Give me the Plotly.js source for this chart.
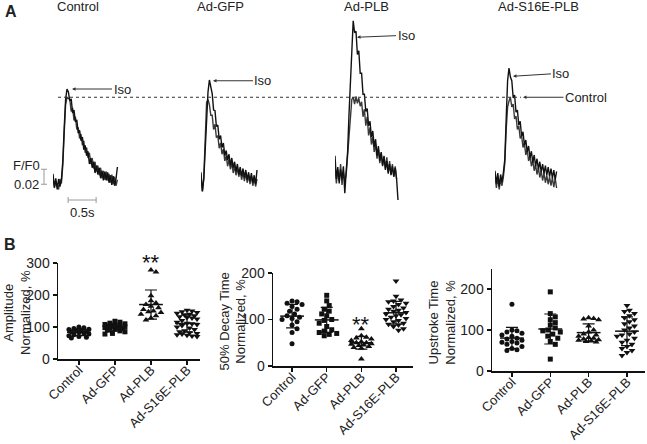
<!DOCTYPE html>
<html><head><meta charset="utf-8">
<script src="https://cdn.plot.ly/plotly-3.0.1.min.js"></script>
<style>html,body{margin:0;padding:0;background:#fff}#chart{width:647px;height:444px}</style>
</head><body><div id="chart"></div>
<script>
// ---------- DATA ----------
// Panel A: Ca transients, F/F0 sampled every 25 ms
const sampleDt = 0.025;
const groupNames = ['Control', 'Ad-GFP', 'Ad-PLB', 'Ad-S16E-PLB'];
const g1Ctrl = [1.006,0.992,1.001,0.997,0.990,1.004,0.998,1.022,1.065,1.103,1.113,1.111,1.110,1.094,1.099,1.082,1.087,1.070,1.073,1.058,1.064,1.049,1.055,1.039,1.046,1.032,1.039,1.024,1.032,1.018,1.027,1.014,1.022,1.009,1.019,1.005,1.015,1.003,1.014,1.002,1.011,0.999,1.010,0.997,1.007,0.995,1.003];
const g1Iso = [1.011,0.993,1.005,0.990,1.004,0.994,1.003,1.028,1.072,1.110,1.124,1.120,1.108,1.111,1.092,1.096,1.080,1.083,1.065,1.069,1.055,1.060,1.043,1.049,1.035,1.041,1.024,1.032,1.019,1.027,1.012,1.022,1.010,1.019,1.005,1.015,1.002,1.014,1.002,1.013,0.999,1.009,0.996,1.008,0.995,1.004,1.020];
const g2Ctrl = [1.005,0.987,1.006,1.050,1.106,1.110,1.103,1.089,1.089,1.070,1.077,1.059,1.062,1.045,1.052,1.037,1.044,1.028,1.035,1.021,1.030,1.017,1.026,1.012,1.021,1.009,1.019,1.007,1.016,1.003,1.013,1.001,1.012,0.999,1.009,0.997,1.008,0.995,1.005,0.994,1.004];
const g2Iso = [1.013,0.988,1.004,1.040,1.085,1.120,1.136,1.126,1.118,1.096,1.095,1.074,1.076,1.057,1.062,1.046,1.052,1.035,1.042,1.029,1.037,1.022,1.032,1.019,1.027,1.014,1.024,1.010,1.020,1.008,1.018,1.006,1.016,1.003,1.013,1.001,1.012,0.999,1.009,0.997,1.016];
const g3Ctrl = [1.020,0.998,1.016,1.002,1.024,0.996,1.014,1.001,1.010,1.035,1.070,1.095,1.110,1.113,1.104,1.114,1.105,1.112,1.101,1.107,1.087,1.097,1.075,1.087,1.062,1.073,1.050,1.060,1.040,1.051,1.031,1.044,1.025,1.039,1.021,1.035,1.018,1.033,1.014,1.028,1.010,1.024,1.007,1.021,1.004];
const g3Iso = [1.035,1.004,1.020,0.998,1.017,1.003,1.021,0.985,1.015,1.040,1.090,1.140,1.185,1.215,1.199,1.201,1.170,1.175,1.145,1.145,1.117,1.117,1.094,1.098,1.075,1.081,1.060,1.068,1.047,1.057,1.035,1.048,1.028,1.040,1.022,1.034,1.016,1.028,1.011,1.024,1.009,1.021,1.007,1.019,1.004,0.976];
const g4Ctrl = [1.008,0.992,1.006,0.990,1.004,0.995,1.007,1.025,1.070,1.100,1.108,1.113,1.100,1.104,1.084,1.088,1.070,1.075,1.058,1.062,1.046,1.052,1.036,1.043,1.028,1.035,1.021,1.029,1.015,1.023,1.010,1.019,1.006,1.015,1.002,1.012,0.999,1.009,0.997,1.007,0.995,1.006,0.993,1.005,0.992];
const g4Iso = [1.015,0.998,1.012,0.994,1.010,1.000,1.013,1.030,1.085,1.135,1.152,1.140,1.135,1.112,1.116,1.093,1.096,1.076,1.081,1.061,1.067,1.049,1.056,1.040,1.048,1.032,1.041,1.026,1.036,1.021,1.031,1.017,1.027,1.013,1.024,1.011,1.022,1.009,1.020,1.007,1.018,1.005,1.016,1.003,1.014];

// Panel B: normalized values, %
const catNames = ['Control', 'Ad-GFP', 'Ad-PLB', 'Ad-S16E-PLB'];
const ampControl = [100,98,95,93,92,90,88,86,85,83,80,78,76,73,70,68,66];
const ampGFP = [118,115,112,110,108,106,104,103,102,100,99,98,96,95,93,90,88,85,80,78];
const ampPLB = [278,272,198,182,175,170,165,160,155,150,148,145,140,135,128,122];
const ampS16E = [152,150,148,145,143,140,138,135,132,130,128,125,120,115,112,110,108,105,100,97,92,88,85,82,80,78,76,74,72,70];
const decControl = [140,138,135,132,128,122,118,112,108,105,102,100,95,88,80,72,48];
const decGFP = [152,140,130,122,118,112,108,100,98,92,85,78,75,72,70,68,65];
const decPLB = [80,65,62,60,58,55,52,50,50,48,47,45,44,42,40,38,15];
const decS16E = [183,150,142,140,138,135,132,128,125,122,120,118,115,112,110,108,105,102,100,98,95,92,90,88,85,80,77];
const upControl = [163,100,98,95,92,88,85,80,78,75,72,70,68,65,60,55,52,50];
const upGFP = [193,140,132,125,118,112,105,100,98,95,90,85,80,72,65,29];
const upPLB = [130,128,127,125,110,100,95,90,88,85,82,80,78,76,75,73,72,71];
const upS16E = [160,148,145,140,135,130,125,120,115,110,105,100,95,90,88,85,80,75,70,65,60,55,50,45,38];

// ---------- LAYOUT HELPERS ----------
const W = 647, H = 444;
const FONT = 'Arial, "Liberation Sans", sans-serif';
const px = x => x / W, py = y => 1 - y / H;
const symbols = ['circle', 'square', 'triangle-up', 'triangle-down'];
const traces = [];
const annotations = [];
const shapes = [];
const label = (x, y, text, size, extra) => annotations.push(Object.assign({xref: 'paper', yref: 'paper', x: px(x), y: py(y),
  text: text, showarrow: false, xanchor: 'center', yanchor: 'middle', font: {size: size, color: '#222'}}, extra || {}));

// Panel A axes: one shared F/F0 axis, one time axis per group
const aYTop = 0, aYBot = 230, aBasePx = 182, aPxPerUnit = 750;
const aRange = [1 - (aYBot - aBasePx) / aPxPerUnit, 1 + (aBasePx - aYTop) / aPxPerUnit];
const groupStartPx = [53, 201, 335, 495];
const pxPerSec = 56, span = 1.2;
const groupData = [[g1Ctrl, g1Iso], [g2Ctrl, g2Iso], [g3Ctrl, g3Iso], [g4Ctrl, g4Iso]];
const layout = {
  width: W, height: H, margin: {l: 0, r: 0, t: 0, b: 0},
  paper_bgcolor: '#fff', plot_bgcolor: 'rgba(0,0,0,0)', showlegend: false,
  font: {family: FONT, color: '#222'},
  yaxis4: {domain: [py(aYBot), py(aYTop)], range: aRange, visible: false, anchor: 'x4'}
};
groupData.forEach((pair, g) => {
  const ax = 'xaxis' + (4 + g);
  layout[ax] = {domain: [px(groupStartPx[g]), px(groupStartPx[g] + pxPerSec * span)], range: [0, span], visible: false, anchor: 'y4'};
  const colors = ['#3a3a3a', '#111'];
  pair.forEach((arr, k) => {
    traces.push({type: 'scatter', mode: 'lines', xaxis: 'x' + (4 + g), yaxis: 'y4',
      x: arr.map((_, i) => +(i * sampleDt).toFixed(3)), y: arr,
      line: {color: colors[k], width: 1.4}, hoverinfo: 'skip'});
  });
  label(groupStartPx[g] + [25, 19, 31, 43][g], 7, groupNames[g], 13);
});
// dashed reference line at the control peak
const ctrlPeak = Math.max(...g1Ctrl);
shapes.push({type: 'line', xref: 'paper', yref: 'y4', x0: px(58), x1: px(521), y0: ctrlPeak, y1: ctrlPeak,
  line: {color: '#333', width: 1, dash: '3px,3px'}});
// arrows
const arrowSpecs = [
  {ax: 'x4', t: 0.34, f: 1.124, dx: 50, dy: 0, text: 'Iso'},
  {ax: 'x5', t: 0.214, f: 1.135, dx: 50, dy: 0, text: 'Iso'},
  {ax: 'x6', t: 0.393, f: 1.193, dx: 49, dy: -2, text: 'Iso'},
  {ax: 'x7', t: 0.321, f: 1.141, dx: 48, dy: -3, text: 'Iso'},
  {ax: 'x7', t: 0.50, f: ctrlPeak, dx: 63, dy: 0, text: 'Control'}
];
arrowSpecs.forEach(a => annotations.push({xref: a.ax, yref: 'y4', x: a.t, y: a.f, ax: a.dx, ay: a.dy,
  text: a.text, showarrow: true, arrowhead: 2, arrowsize: 0.7, arrowwidth: 1, arrowcolor: '#333',
  xanchor: 'center', yanchor: 'middle', font: {size: 13, color: '#222'}}));
// scale bars
const grey = '#9a9a9a';
shapes.push({type: 'line', xref: 'paper', yref: 'y4', x0: px(44), x1: px(44), y0: 0.997, y1: 1.017, line: {color: grey, width: 1}});
shapes.push({type: 'line', xref: 'paper', yref: 'y4', x0: px(41), x1: px(47), y0: 0.997, y1: 0.997, line: {color: grey, width: 1}});
shapes.push({type: 'line', xref: 'paper', yref: 'y4', x0: px(41), x1: px(47), y0: 1.017, y1: 1.017, line: {color: grey, width: 1}});
shapes.push({type: 'line', xref: 'x4', yref: 'y4', x0: 0.27, x1: 0.77, y0: 0.976, y1: 0.976, line: {color: grey, width: 1}});
shapes.push({type: 'line', xref: 'x4', yref: 'y4', x0: 0.27, x1: 0.27, y0: 0.972, y1: 0.980, line: {color: grey, width: 1}});
shapes.push({type: 'line', xref: 'x4', yref: 'y4', x0: 0.77, x1: 0.77, y0: 0.972, y1: 0.980, line: {color: grey, width: 1}});
label(26, 165, 'F/F0', 13);
label(26, 184, '0.02', 13);
label(82, 212, '0.5s', 13);
label(11, 12, '<b>A</b>', 16);
label(10, 244, '<b>B</b>', 16);

// ---------- PANEL B ----------
const panels = [
  {sets: [ampControl, ampGFP, ampPLB, ampS16E], xl: 58, xr: 200, yt: 263, yb: 359, xr0: -0.58, xr1: 3.36, ymax: 300, ticks: [0, 100, 200, 300],
   title: 'Amplitude<br>Normalized, %', tx: 17, star: {cat: 2, y: 257}},
  {sets: [decControl, decGFP, decPLB, decS16E], xl: 273, xr: 413, yt: 273, yb: 366, xr0: -0.55, xr1: 3.49, ymax: 200, ticks: [0, 100, 200],
   title: '50% Decay Time<br>Normalized, %', tx: 232, star: {cat: 2, y: 319}},
  {sets: [upControl, upGFP, upPLB, upS16E], xl: 492, xr: 645, yt: 268.5, yb: 371, xr0: -0.52, xr1: 3.47, ymax: 250, ticks: [0, 100, 200],
   title: 'Upstroke Time<br>Normalized, %', tx: 442, star: null}
];
// simple beeswarm: offsets computed from the values so markers do not pile up
function swarm(vals, pxPerUnit, pxPerCat, d, maxPx) {
  const order = vals.map((v, i) => i).sort((a, b) => vals[b] - vals[a]);
  const placed = [], off = new Array(vals.length);
  const cands = [0];
  for (let s = d / 2; s <= maxPx + 0.01; s += d / 2) { cands.push(s, -s); }
  for (const i of order) {
    let best = 0, bestScore = -1;
    for (const c of cands) {
      const minD = placed.reduce((m, p) => { const dx = p.x - c, dy = (p.v - vals[i]) * pxPerUnit; return Math.min(m, Math.hypot(dx, dy)); }, Infinity);
      if (minD >= d) { best = c; bestScore = Infinity; break; }
      if (minD > bestScore) { bestScore = minD; best = c; }
    }
    off[i] = best / pxPerCat; placed.push({x: best, v: vals[i]});
  }
  return off;
}
const mean = a => a.reduce((s, v) => s + v, 0) / a.length;
const sd = a => { const m = mean(a); return Math.sqrt(a.reduce((s, v) => s + (v - m) * (v - m), 0) / (a.length - 1)); };

panels.forEach((p, n) => {
  const sfx = n === 0 ? '' : String(n + 1);
  const pxPerUnit = (p.yb - p.yt) / p.ymax;
  const pxPerCat = (p.xr - p.xl) / (p.xr1 - p.xr0);
  const axisCommon = {showline: true, linecolor: '#111', linewidth: 1.5, ticks: 'outside', ticklen: 4, tickwidth: 1.5,
    tickcolor: '#111', showgrid: false, zeroline: false, fixedrange: true};
  layout['xaxis' + (n === 0 ? '' : n + 1)] = Object.assign({}, axisCommon, {
    domain: [px(p.xl), px(p.xr)], range: [p.xr0, p.xr1], anchor: 'y' + sfx,
    tickmode: 'array', tickvals: [0, 1, 2, 3], ticktext: catNames, tickangle: -45, ticklabelstandoff: -7,
    tickfont: {size: 13, color: '#222', family: FONT}});
  layout['yaxis' + (n === 0 ? '' : n + 1)] = Object.assign({}, axisCommon, {
    domain: [py(p.yb), py(p.yt)], range: [0, p.ymax], anchor: 'x' + sfx,
    tickmode: 'array', tickvals: p.ticks, tickfont: {size: 14, color: '#222', family: FONT}});
  p.sets.forEach((vals, c) => {
    const off = swarm(vals, pxPerUnit, pxPerCat, 5, 11);
    traces.push({type: 'scatter', mode: 'markers', xaxis: 'x' + sfx, yaxis: 'y' + sfx,
      x: vals.map((v, i) => c + off[i]), y: vals, cliponaxis: false,
      marker: {symbol: symbols[c], size: c >= 2 ? 6 : 5, color: '#111'}, hoverinfo: 'skip'});
    traces.push({type: 'scatter', mode: 'markers', xaxis: 'x' + sfx, yaxis: 'y' + sfx,
      x: [c], y: [mean(vals)], cliponaxis: false,
      marker: {symbol: 'line-ew', size: 17, line: {color: '#111', width: 1.5}},
      error_y: {type: 'data', array: [sd(vals)], visible: true, color: '#111', thickness: 1.2, width: 6},
      hoverinfo: 'skip'});
  });
  label(p.tx, (p.yt + p.yb) / 2 + 2, p.title, 13, {textangle: -90, align: 'center'});
  if (p.star) {
    annotations.push({xref: 'x' + sfx, yref: 'paper', x: p.star.cat, y: py(p.star.y + 5), text: '**', showarrow: false,
      xanchor: 'center', yanchor: 'middle', font: {size: 22, color: '#111'}});
  }
});
layout.annotations = annotations;
layout.shapes = shapes;

Plotly.newPlot('chart', traces, layout, {staticPlot: true, displayModeBar: false});
</script></body></html>
